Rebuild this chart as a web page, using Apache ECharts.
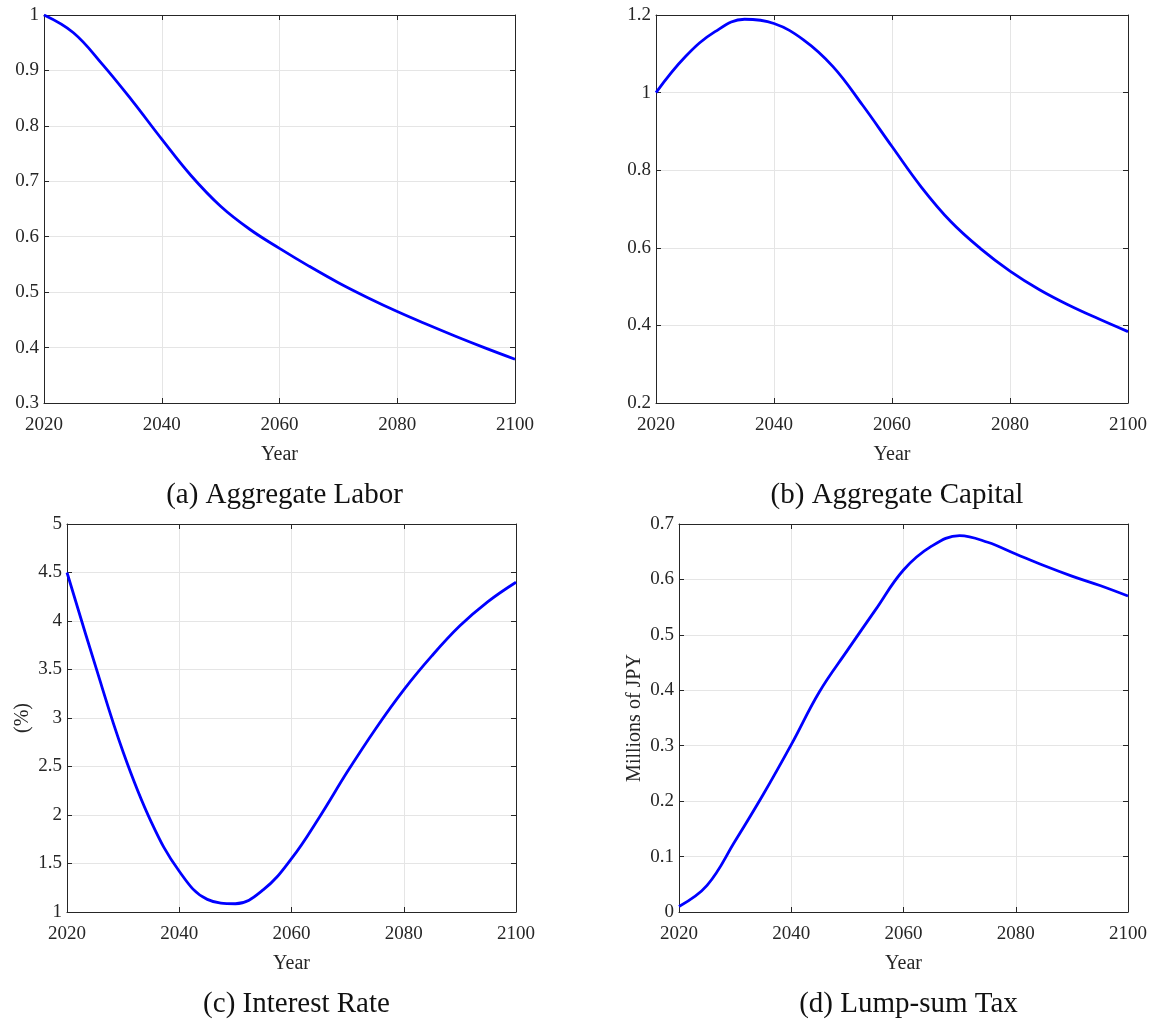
<!DOCTYPE html>
<html>
<head>
<meta charset="utf-8">
<script src="https://cdn.jsdelivr.net/npm/echarts@6/dist/echarts.min.js"></script>
<style>
  html, body { margin: 0; padding: 0; background: #fff; }
  #main { width: 1153px; height: 1019px; }
</style>
</head>
<body>
<div id="main"></div>
<script>
// years, every 5 years
const years = [2020, 2025, 2030, 2035, 2040, 2045, 2050, 2055, 2060, 2065, 2070, 2075, 2080, 2085, 2090, 2095, 2100]

// (a) aggregate labor
const labor = [1.0, 0.968, 0.910, 0.845, 0.776, 0.710, 0.655, 0.613, 0.579, 0.547, 0.517, 0.490, 0.465, 0.442, 0.420, 0.399, 0.379]
// (b) aggregate capital
const capital = [1.0, 1.093, 1.157, 1.189, 1.178, 1.136, 1.067, 0.968, 0.861, 0.756, 0.667, 0.598, 0.540, 0.492, 0.452, 0.417, 0.384]
// (c) interest rate (%)
const interest = [4.5, 3.55, 2.65, 1.93, 1.42, 1.13, 1.085, 1.23, 1.55, 1.98, 2.45, 2.89, 3.29, 3.64, 3.95, 4.20, 4.40]
// (d) lump-sum tax, millions of JPY
const lumpSum = [0.010, 0.048, 0.128, 0.212, 0.302, 0.397, 0.472, 0.545, 0.617, 0.660, 0.679, 0.667, 0.646, 0.625, 0.606, 0.589, 0.570]

const captions = ['(a) Aggregate Labor', '(b) Aggregate Capital', '(c) Interest Rate', '(d) Lump-sum Tax']
const yNames = ['', '', '(%)', 'Millions of JPY']
const yRanges = [[0.3, 1, 0.1], [0.2, 1.2, 0.2], [1, 5, 0.5], [0, 0.7, 0.1]]
const allSeries = [labor, capital, interest, lumpSum]

const grids = [
  { left: 44, top: 15, width: 471, height: 388 },
  { left: 656, top: 15, width: 472, height: 388 },
  { left: 67, top: 524, width: 449, height: 388 },
  { left: 679, top: 524, width: 449, height: 388 }
]

const font = 'Liberation Serif, Times New Roman, serif'
const axisColor = '#262626'

function fmt (v) {
  return String(+v.toFixed(2))
}

var chart = echarts.init(document.getElementById('main'))
var xAxis = [], yAxis = [], series = [], title = []

grids.forEach(function (g, i) {
  // bottom axis with labels
  xAxis.push({
    type: 'value', gridIndex: i, min: 2020, max: 2100, interval: 20,
    name: 'Year', nameLocation: 'middle', nameGap: 42,
    nameTextStyle: { fontFamily: font, fontSize: 20, color: axisColor },
    axisLine: { lineStyle: { color: axisColor, width: 1 } },
    axisTick: { inside: true, length: 5, lineStyle: { color: axisColor } },
    axisLabel: { fontFamily: font, fontSize: 19, color: axisColor, margin: 13, formatter: fmt },
    splitLine: { show: true, lineStyle: { color: '#e5e5e5', width: 1 } }
  })
  // top axis: box edge and ticks only
  xAxis.push({
    type: 'value', gridIndex: i, position: 'top', min: 2020, max: 2100, interval: 20,
    axisLine: { onZero: false, lineStyle: { color: axisColor, width: 1 } },
    axisTick: { inside: true, length: 5, lineStyle: { color: axisColor } },
    axisLabel: { show: false }, splitLine: { show: false }
  })
  var r = yRanges[i]
  yAxis.push({
    type: 'value', gridIndex: i, min: r[0], max: r[1], interval: r[2],
    name: yNames[i], nameLocation: 'middle', nameGap: 34,
    nameTextStyle: { fontFamily: font, fontSize: 20, color: axisColor },
    axisLine: { show: true, onZero: false, lineStyle: { color: axisColor, width: 1 } },
    axisTick: { show: true, inside: true, length: 5, lineStyle: { color: axisColor } },
    axisLabel: { fontFamily: font, fontSize: 19, color: axisColor, margin: 5, formatter: fmt },
    splitLine: { show: true, lineStyle: { color: '#e5e5e5', width: 1 } }
  })
  yAxis.push({
    type: 'value', gridIndex: i, position: 'right', min: r[0], max: r[1], interval: r[2],
    axisLine: { show: true, onZero: false, lineStyle: { color: axisColor, width: 1 } },
    axisTick: { show: true, inside: true, length: 5, lineStyle: { color: axisColor } },
    axisLabel: { show: false }, splitLine: { show: false }
  })
  series.push({
    type: 'line', xAxisIndex: i * 2, yAxisIndex: i * 2,
    data: years.map(function (y, k) { return [y, allSeries[i][k]] }),
    smooth: 0.4, showSymbol: false, silent: true,
    lineStyle: { color: '#0000ff', width: 2.8 }
  })
  title.push({
    text: captions[i],
    left: g.left + g.width / 2, top: g.top + g.height + 73,
    textAlign: 'center',
    textStyle: { fontFamily: font, fontSize: 29, fontWeight: 'normal', color: '#111' }
  })
})

chart.setOption({
  animation: false,
  backgroundColor: '#fff',
  title: title,
  grid: grids,
  xAxis: xAxis,
  yAxis: yAxis,
  series: series
})
</script>
</body>
</html>
